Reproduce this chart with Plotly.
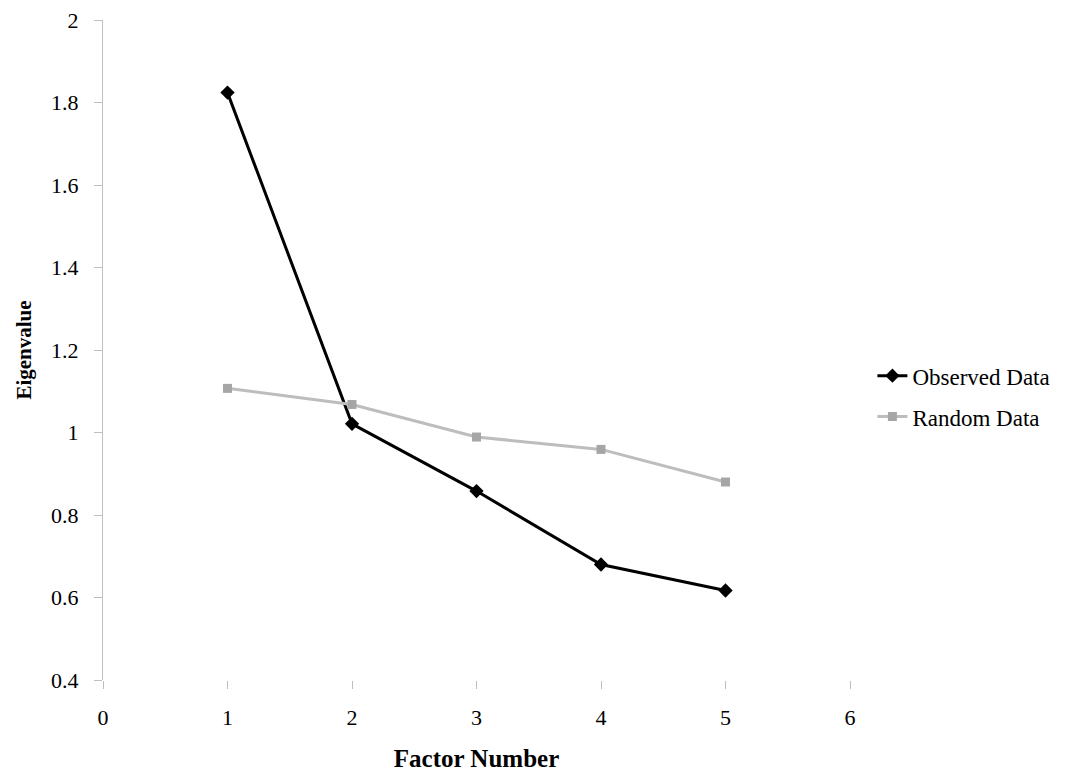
import plotly.graph_objects as go

factors = [1, 2, 3, 4, 5]
observed = [1.824, 1.021, 0.858, 0.680, 0.617]
random_data = [1.107, 1.068, 0.989, 0.959, 0.880]
x_ticks = [0, 1, 2, 3, 4, 5, 6]
y_ticks = [0.4, 0.6, 0.8, 1.0, 1.2, 1.4, 1.6, 1.8, 2.0]
y_tick_text = ["0.4", "0.6", "0.8", "1", "1.2", "1.4", "1.6", "1.8", "2"]

FONT = "Liberation Serif, Times New Roman, serif"

fig = go.Figure()
fig.add_trace(go.Scatter(
    x=factors, y=observed, name="Observed Data", mode="lines+markers",
    line=dict(color="#000000", width=3),
    marker=dict(symbol="diamond", size=11, color="#000000"),
    legendgroup="a",
))
fig.add_trace(go.Scatter(
    x=factors, y=random_data, name="Random Data", mode="lines+markers",
    line=dict(color="#bdbdbd", width=3),
    marker=dict(symbol="square", size=9, color="#a6a6a6"),
    legendgroup="b",
))

fig.update_layout(
    width=1075, height=772,
    margin=dict(l=95, r=233, t=12, b=100),
    paper_bgcolor="white", plot_bgcolor="white",
    font=dict(family=FONT, size=22, color="#000000"),
    showlegend=True,
    legend=dict(x=1.03, y=0.43, xanchor="left", yanchor="middle",
                font=dict(family=FONT, size=23, color="#000000"),
                tracegroupgap=8, itemwidth=30,
                bgcolor="rgba(0,0,0,0)"),
    xaxis=dict(
        range=[0, 6], tickvals=x_ticks, ticktext=[str(v) for v in x_ticks],
        showgrid=False, zeroline=False, showline=False,
        ticks="outside", ticklen=8, tickcolor="#bfbfbf", tickwidth=1,
        ticklabelstandoff=10, ticklabeloverflow="allow",
        title=dict(text="<b>Factor Number</b>", standoff=20,
                   font=dict(family=FONT, size=25, color="#000000")),
        automargin=False,
    ),
    yaxis=dict(
        range=[0.4, 2.0], tickvals=y_ticks, ticktext=y_tick_text,
        showgrid=False, zeroline=False, showline=True, linecolor="#bfbfbf", linewidth=1,
        ticks="outside", ticklen=8, tickcolor="#bfbfbf", tickwidth=1,
        ticklabelstandoff=11, ticklabeloverflow="allow",
        title=dict(text="<b>Eigenvalue</b>", standoff=13,
                   font=dict(family=FONT, size=21, color="#000000")),
        automargin=False,
    ),
)

fig.write_html("out.html")
